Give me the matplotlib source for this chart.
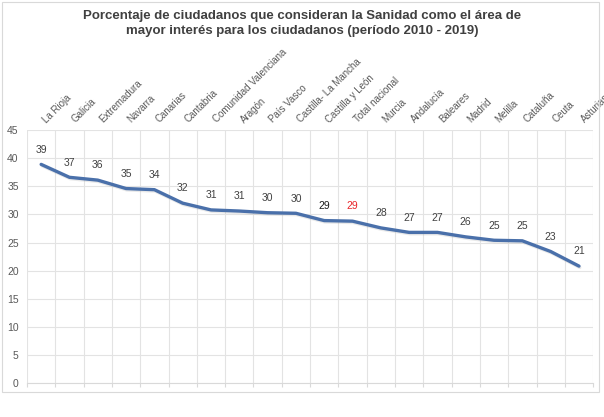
import matplotlib
matplotlib.use("Agg")
import matplotlib.pyplot as plt
import matplotlib.patheffects as pe
from matplotlib.patches import Rectangle

plt.rcParams['font.family'] = ['Liberation Sans', 'DejaVu Sans']

regiones = ["La Rioja", "Galicia", "Extremadura", "Navarra", "Canarias", "Cantabria",
            "Comunidad Valenciana", "Aragón", "País Vasco", "Castilla- La Mancha",
            "Castilla y León", "Total nacional", "Murcia", "Andalucía", "Baleares",
            "Madrid", "Melilla", "Cataluña", "Ceuta", "Asturias"]
porcentaje = [38.9, 36.6, 36.1, 34.6, 34.4, 32.0, 30.8, 30.6, 30.3, 30.2,
              28.9, 28.8, 27.6, 26.8, 26.8, 26.0, 25.4, 25.3, 23.4, 20.8]
yticks = [0, 5, 10, 15, 20, 25, 30, 35, 40, 45]

fig = plt.figure(figsize=(6.04, 4.17), dpi=100)
ax = fig.add_axes([0.0447, 0.0815, 0.9373, 0.6065])

x = [i + 0.5 for i in range(len(regiones))]
ax.plot(x, porcentaje, color='#4A70AA', lw=2.4, solid_capstyle='round',
        path_effects=[pe.SimpleLineShadow(offset=(0.6, -1), shadow_color='#aaaaaa', alpha=0.25),
                      pe.Normal()], zorder=3)

for xi, v, nombre in zip(x, porcentaje, regiones):
    if nombre == "Total nacional":
        c = '#E8262A'
    elif nombre == "Castilla y León":
        c = '#1a1a1a'
    else:
        c = '#404040'
    ax.annotate(f"{v:.0f}", (xi, v), xytext=(0, 7), textcoords='offset points',
                ha='center', va='bottom', fontsize=7.5, color=c)
    ax.annotate(nombre, (xi, 45), xytext=(4, 5), textcoords='offset points',
                ha='left', va='baseline', rotation=45, rotation_mode='anchor',
                fontsize=7, color='#595959', annotation_clip=False)

ax.set_xlim(0, len(regiones))
ax.set_ylim(0, 45)
ax.set_yticks(yticks)
ax.set_xticks(range(len(regiones) + 1))
ax.set_xticklabels([])
ax.tick_params(axis='x', length=3, color='#d9d9d9', width=0.8)
ax.tick_params(axis='y', length=0, labelsize=7.5, labelcolor='#595959', pad=6)
ax.grid(True, color='#e3e3e3', lw=0.8)
ax.set_axisbelow(True)
for s in ['top', 'right', 'left']:
    ax.spines[s].set_visible(False)
ax.spines['bottom'].set_color('#d9d9d9')

fig.text(0.5, 0.975, "Porcentaje de ciudadanos que consideran la Sanidad como el área de\n"
         "mayor interés para los ciudadanos (período 2010 - 2019)",
         ha='center', va='top', fontsize=9.5, fontweight='bold', color='#404040',
         linespacing=1.3)

fig.patches.append(Rectangle((0.004, 0.06), 0.988, 0.935, transform=fig.transFigure,
                             fill=False, edgecolor='#d9d9d9', lw=0.8))

fig.savefig("out.png", dpi=100)
